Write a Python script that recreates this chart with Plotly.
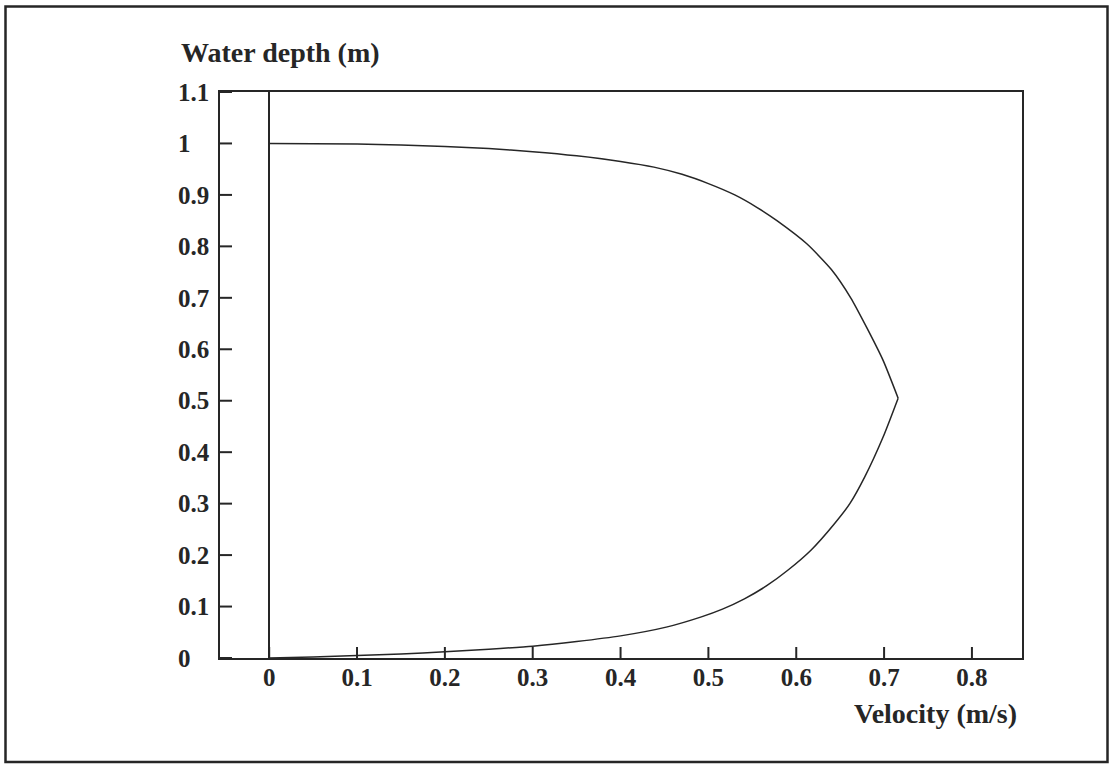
import plotly.graph_objects as go

# Velocity profile over the water column: surface branch (depth 1 -> 0.5)
# and bed branch (depth 0.5 -> 0), meeting at the velocity maximum
upper_velocity = [0.0, 0.10, 0.15, 0.20, 0.25, 0.30, 0.35, 0.40, 0.438, 0.47,
                  0.50, 0.530, 0.556, 0.578, 0.612, 0.640, 0.662, 0.680, 0.699, 0.716]
upper_depth = [1.0, 0.999, 0.997, 0.994, 0.990, 0.984, 0.976, 0.965, 0.954, 0.940,
               0.922, 0.900, 0.875, 0.850, 0.805, 0.755, 0.700, 0.643, 0.578, 0.505]

lower_velocity = [0.716, 0.699, 0.678, 0.661, 0.643, 0.617, 0.590, 0.566, 0.541,
                  0.516, 0.492, 0.452, 0.40, 0.35, 0.30, 0.25, 0.20, 0.15, 0.10,
                  0.05, 0.0]
lower_depth = [0.505, 0.430, 0.352, 0.300, 0.260, 0.210, 0.170, 0.140, 0.115,
               0.095, 0.080, 0.060, 0.043, 0.032, 0.023, 0.017, 0.012, 0.008,
               0.005, 0.002, 0.0]

x_ticks = [0, 0.1, 0.2, 0.3, 0.4, 0.5, 0.6, 0.7, 0.8]
x_tick_text = ["0", "0.1", "0.2", "0.3", "0.4", "0.5", "0.6", "0.7", "0.8"]
y_ticks = [0, 0.1, 0.2, 0.3, 0.4, 0.5, 0.6, 0.7, 0.8, 0.9, 1.0, 1.1]
y_tick_text = ["0", "0.1", "0.2", "0.3", "0.4", "0.5", "0.6", "0.7", "0.8",
               "0.9", "1", "1.1"]

# Left-align the short y labels by padding them to the width of "0.1"
PAD = "\u00a0\u00a0\u00a0"
y_tick_text = [t + PAD if len(t) == 1 else t for t in y_tick_text]

INK = "#262626"
SERIF = "Liberation Serif"

W, H = 1112, 765
ML, MR, MT, MB = 220, 90, 92, 107
PW, PH = W - ML - MR, H - MT - MB
XTICK_LEN, YTICK_LEN = 11, 12

fig = go.Figure()
for xs, ys in [(upper_velocity, upper_depth), (lower_velocity, lower_depth)]:
    fig.add_trace(go.Scatter(
        x=xs, y=ys, mode="lines",
        line=dict(color=INK, width=1.5, shape="spline", smoothing=0.6),
        hoverinfo="skip", showlegend=False,
    ))

axis_common = dict(
    showline=True, linecolor=INK, linewidth=1.5, mirror=True,
    showgrid=False, ticks="",
    tickfont=dict(family=SERIF, size=25, color=INK, weight="bold"),
)

fig.update_xaxes(
    range=[-0.056, 0.857], tickmode="array", tickvals=x_ticks,
    ticktext=x_tick_text, zeroline=True, zerolinecolor=INK,
    zerolinewidth=1.5, ticklabelstandoff=-4, **axis_common,
)
fig.update_yaxes(
    range=[0, 1.1], tickmode="array", tickvals=y_ticks,
    ticktext=y_tick_text, zeroline=False, ticklabelstandoff=4,
    **axis_common,
)

# Short inward tick marks on the bottom and left axes
for v in x_ticks:
    fig.add_shape(type="line", xref="x", yref="paper", x0=v, x1=v,
                  y0=0, y1=XTICK_LEN / PH, line=dict(color=INK, width=2))
for v in y_ticks:
    fig.add_shape(type="line", xref="paper", yref="y", x0=0,
                  x1=YTICK_LEN / PW, y0=v, y1=v, line=dict(color=INK, width=2))

title_font = dict(family=SERIF, size=28, color=INK, weight="bold")
fig.add_annotation(
    text="Water depth (m)", xref="paper", yref="paper",
    x=(179 - ML) / PW, y=(H - MB - 53) / PH,
    xanchor="left", yanchor="middle", showarrow=False, font=title_font,
)
fig.add_annotation(
    text="Velocity\u00a0(m/s)", xref="paper", yref="paper",
    x=(1019 - ML) / PW, y=(H - MB - 713) / PH,
    xanchor="right", yanchor="middle", showarrow=False, font=title_font,
)

# Outer frame around the whole figure
fig.add_shape(
    type="rect", xref="paper", yref="paper",
    x0=(5.5 - ML) / PW, x1=(1107.5 - ML) / PW,
    y0=(H - MB - 762) / PH, y1=(H - MB - 6.5) / PH,
    line=dict(color=INK, width=2.5), layer="below",
)

fig.update_layout(
    width=W, height=H,
    margin=dict(l=ML, r=MR, t=MT, b=MB),
    paper_bgcolor="white", plot_bgcolor="white",
)

fig.write_html("out.html")
